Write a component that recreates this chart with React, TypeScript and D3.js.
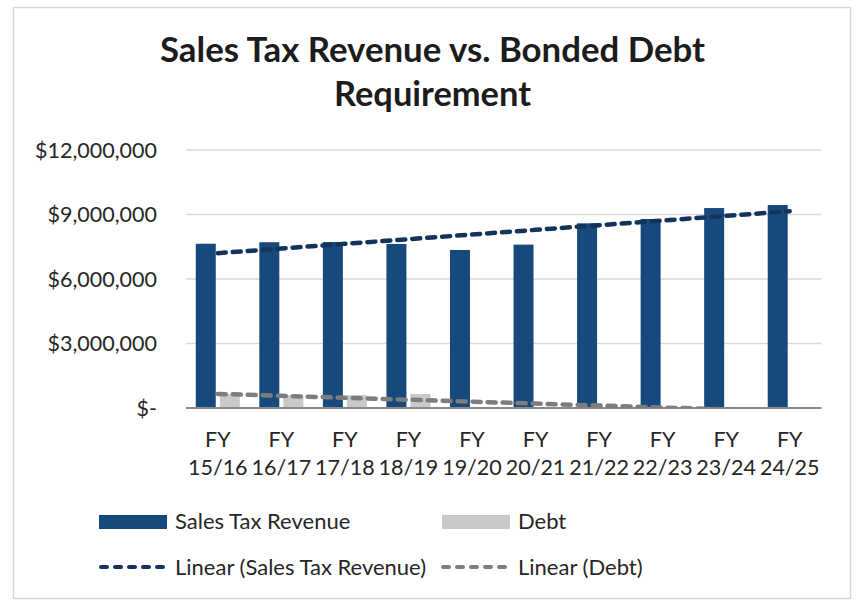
import React from "react";
import * as d3 from "d3";

const categories: string[] = ["15/16", "16/17", "17/18", "18/19", "19/20", "20/21", "21/22", "22/23", "23/24", "24/25"];
const salesTaxRevenue: number[] = [7640000, 7710000, 7720000, 7630000, 7350000, 7600000, 8590000, 8790000, 9300000, 9440000];
const debt: number[] = [640000, 600000, 600000, 650000, 0, 0, 0, 0, 0, 0];
const yTicks: number[] = [0, 3000000, 6000000, 9000000, 12000000];
const titleLines: string[] = ["Sales Tax Revenue vs. Bonded Debt", "Requirement"];

const W = 856;
const H = 602;
const plot = { left: 186, right: 821.5, top: 150, bottom: 408 };

const COL_REV = "#18497d";
const COL_DEBT = "#c8c9cb";
const COL_REV_TREND = "#12345a";
const COL_DEBT_TREND = "#7d7d7d";
const TEXT = "#262626";
const FONT = "Lato, 'Open Sans', sans-serif";

function linearFit(vals: number[]): (i: number) => number {
  const n = vals.length;
  const mx = (n - 1) / 2;
  const my = d3.mean(vals) as number;
  let sxy = 0;
  let sxx = 0;
  vals.forEach((v, i) => {
    sxy += (i - mx) * (v - my);
    sxx += (i - mx) * (i - mx);
  });
  const b = sxy / sxx;
  const a = my - b * mx;
  return (i: number) => a + b * i;
}

export default function App() {
  const x = d3.scaleBand<string>().domain(categories).range([plot.left, plot.right]).padding(0);
  const y = d3.scaleLinear().domain([0, 12000000]).range([plot.bottom, plot.top]);
  const center = (c: string) => (x(c) as number) + x.bandwidth() / 2;
  const sub = d3.scaleBand<string>().domain(["rev", "debt"]).range([-22, 22]).paddingInner(0.167);

  const fmt = d3.format("$,");
  const tickLabel = (v: number) => (v === 0 ? "$-" : fmt(v));

  const revFit = linearFit(salesTaxRevenue);
  const debtFit = linearFit(debt);
  const line = d3
    .line<number>()
    .x((_, i) => center(categories[i]))
    .y((v) => y(v));
  const revTrend = categories.map((_, i) => revFit(i));
  const debtTrend = categories.map((_, i) => debtFit(i));

  return (
    <svg
      width={W}
      height={H}
      style={{ position: "absolute", left: 0, top: 0, background: "#fff" }}
      fontFamily={FONT}
    >
      <defs>
        <clipPath id="plotClip">
          <rect x={plot.left} y={plot.top - 10} width={plot.right - plot.left} height={plot.bottom - plot.top + 10} />
        </clipPath>
      </defs>
      <rect x={0} y={0} width={W} height={H} fill="#fff" />
      <rect x={13.5} y={7.5} width={837} height={591} fill="#fff" stroke="#d6d6d6" strokeWidth={1.5} />

      {titleLines.map((t, i) => (
        <text
          key={t}
          x={432.5}
          y={62 + i * 44}
          textAnchor="middle"
          fontSize={35}
          fontWeight={700}
          fill="#1c1c1c"
          textLength={i === 0 ? 545 : 197}
          lengthAdjust="spacingAndGlyphs"
        >
          {t}
        </text>
      ))}

      {yTicks.map((t) => (
        <g key={t}>
          {t !== 0 && (
            <line x1={plot.left} x2={plot.right} y1={y(t)} y2={y(t)} stroke="#d9d9d9" strokeWidth={1.5} />
          )}
          <text x={157} y={y(t)} dy="0.36em" textAnchor="end" fontSize={21.5} fill={TEXT}>
            {tickLabel(t)}
          </text>
        </g>
      ))}

      {categories.map((c, i) => (
        <g key={c}>
          <rect
            x={center(c) + (sub("rev") as number)}
            y={y(salesTaxRevenue[i])}
            width={sub.bandwidth()}
            height={y(0) - y(salesTaxRevenue[i])}
            fill={COL_REV}
          />
          {debt[i] > 0 && (
            <rect
              x={center(c) + (sub("debt") as number)}
              y={y(debt[i])}
              width={sub.bandwidth()}
              height={y(0) - y(debt[i])}
              fill={COL_DEBT}
            />
          )}
        </g>
      ))}

      <line x1={plot.left} x2={plot.right} y1={y(0)} y2={y(0)} stroke="#8a8a8a" strokeWidth={2} />

      <g clipPath="url(#plotClip)">
        <path
          d={line(revTrend) as string}
          fill="none"
          stroke={COL_REV_TREND}
          strokeWidth={4.5}
          strokeDasharray="8,7"
          strokeLinecap="round"
        />
        <path
          d={line(debtTrend) as string}
          fill="none"
          stroke={COL_DEBT_TREND}
          strokeWidth={4.5}
          strokeDasharray="8,7"
          strokeLinecap="round"
        />
      </g>

      {categories.map((c) => (
        <text key={"l" + c} x={center(c)} textAnchor="middle" fontSize={21.5} fill={TEXT}>
          <tspan x={center(c)} y={447}>FY</tspan>
          <tspan x={center(c)} y={475}>{c}</tspan>
        </text>
      ))}

      <g fontSize={22} fill={TEXT}>
        <rect x={99} y={515} width={68} height={14} fill={COL_REV} />
        <text x={175} y={529}>Sales Tax Revenue</text>
        <rect x={442} y={515} width={68} height={14} fill={COL_DEBT} />
        <text x={518} y={529}>Debt</text>
        <line x1={101} x2={166} y1={567} y2={567} stroke={COL_REV_TREND} strokeWidth={4} strokeDasharray="6,8" strokeLinecap="round" />
        <text x={175} y={575}>Linear (Sales Tax Revenue)</text>
        <line x1={443} x2={508} y1={567} y2={567} stroke={COL_DEBT_TREND} strokeWidth={4} strokeDasharray="6,8" strokeLinecap="round" />
        <text x={518} y={575}>Linear (Debt)</text>
      </g>
    </svg>
  );
}
